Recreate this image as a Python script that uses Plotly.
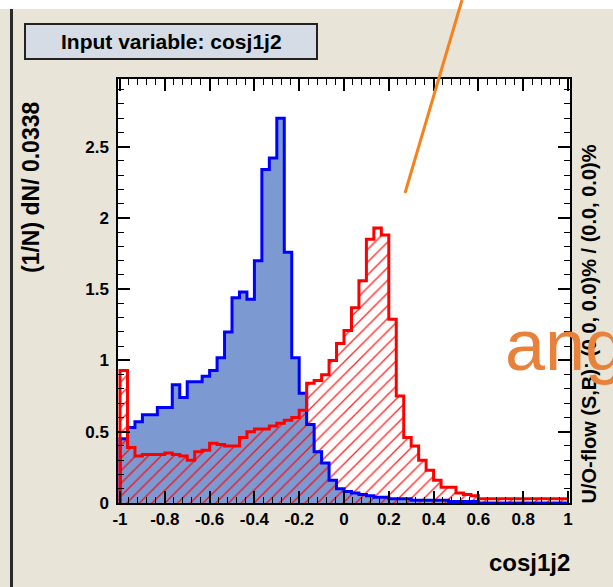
import numpy as np
import plotly.graph_objects as go

# ---------------- data ----------------
x_min, x_max, n_bins = -1.0, 1.0, 60

signal_vals = [0.45, 0.53, 0.57, 0.62, 0.62, 0.67, 0.67, 0.83, 0.74, 0.85,
               0.85, 0.89, 0.93, 1.02, 1.20, 1.44, 1.48, 1.43, 1.70, 2.34,
               2.42, 2.70, 1.76, 1.02, 0.77, 0.55, 0.36, 0.28, 0.16, 0.10,
               0.08, 0.07, 0.06, 0.05, 0.04, 0.04, 0.03, 0.03, 0.03, 0.02,
               0.02, 0.02, 0.02, 0.02, 0.01, 0.01, 0.01, 0.01, 0.00, 0.00,
               0.00, 0.00, 0.00, 0.00, 0.00, 0.00, 0.00, 0.00, 0.00, 0.00]

background_vals = [0.93, 0.39, 0.33, 0.34, 0.34, 0.34, 0.35, 0.34, 0.33, 0.30,
                   0.36, 0.37, 0.42, 0.41, 0.40, 0.40, 0.46, 0.50, 0.52, 0.52,
                   0.54, 0.56, 0.58, 0.60, 0.65, 0.84, 0.86, 0.90, 1.00, 1.12,
                   1.21, 1.37, 1.56, 1.85, 1.93, 1.88, 1.29, 0.75, 0.46, 0.40,
                   0.30, 0.23, 0.16, 0.11, 0.11, 0.07, 0.06, 0.05, 0.03, 0.03,
                   0.03, 0.03, 0.03, 0.03, 0.03, 0.03, 0.03, 0.03, 0.03, 0.03]

x_tick_vals = [-1, -0.8, -0.6, -0.4, -0.2, 0, 0.2, 0.4, 0.6, 0.8, 1]
x_tick_text = ["-1", "-0.8", "-0.6", "-0.4", "-0.2", "0", "0.2", "0.4", "0.6", "0.8", "1"]
y_tick_vals = [0, 0.5, 1, 1.5, 2, 2.5]
y_tick_text = ["0", "0.5", "1", "1.5", "2", "2.5"]

title_text = "Input variable: cosj1j2"
y_title = "(1/N) dN/ 0.0338"
x_title = "cosj1j2"
right_title = "U/O-flow (S,B): (0.0, 0.0)% / (0.0, 0.0)%"
overlay_text = "ang"

# ---------------- geometry helpers ----------------
WIDTH, HEIGHT = 613, 587
L, R, T, B = 118, 570, 79, 503
PW, PH = R - L, B - T


def px(x):
    return (x - L) / PW


def py(y):
    return (B - y) / PH


edges = np.linspace(x_min, x_max, n_bins + 1)
centers = 0.5 * (edges[:-1] + edges[1:])
bw = edges[1] - edges[0]

BOLD = dict(family="Liberation Sans, Arial, sans-serif", color="black", weight="bold")

fig = go.Figure()

fig.add_bar(x=centers, y=signal_vals, width=bw,
            marker=dict(color="#7D99D1", line=dict(width=0)))
fig.add_bar(x=centers, y=background_vals, width=bw,
            marker=dict(color="rgba(0,0,0,0)", line=dict(width=0),
                        pattern=dict(shape="/", fgcolor="rgba(255,0,0,0.85)",
                                     bgcolor="rgba(0,0,0,0)", size=9,
                                     solidity=0.15, fillmode="replace")))


def step(vals):
    xs = [edges[0]] + list(edges)
    ys = [0] + list(vals) + [vals[-1]]
    return xs, ys


sx, sy = step(signal_vals)
fig.add_scatter(x=sx, y=sy, mode="lines", line=dict(color="#0000FF", width=3, shape="hv"))
bx, by = step(background_vals)
fig.add_scatter(x=bx, y=by, mode="lines", line=dict(color="#FF0000", width=3, shape="hv"))

axis_common = dict(ticks="inside", ticklen=12, tickwidth=1.5, tickcolor="black",
                   showline=True, linecolor="black", linewidth=1.5, mirror="ticks",
                   showgrid=False, zeroline=False,
                   tickfont=dict(size=17, **BOLD))

fig.update_xaxes(range=[-1.009, 1.009], tickmode="array", tickvals=x_tick_vals,
                 ticktext=x_tick_text,
                 minor=dict(ticks="inside", ticklen=6, tickmode="linear", tick0=-1,
                            dtick=0.04, tickcolor="black", tickwidth=1, showgrid=False),
                 **axis_common)
fig.update_yaxes(range=[0, 2.975], tickmode="array", tickvals=y_tick_vals,
                 ticktext=y_tick_text, ticklabelstandoff=4,
                 minor=dict(ticks="inside", ticklen=6, tickmode="linear", tick0=0,
                            dtick=0.1, tickcolor="black", tickwidth=1, showgrid=False),
                 **axis_common)

shapes = [
    dict(type="rect", xref="paper", yref="paper", x0=px(0), x1=px(WIDTH), y0=py(0), y1=py(9),
         fillcolor="white", line=dict(width=0), layer="above"),
    dict(type="line", xref="paper", yref="paper", x0=px(11.5), x1=px(11.5), y0=py(9), y1=py(HEIGHT),
         line=dict(color="#2a2a2a", width=3), layer="above"),
    dict(type="rect", xref="paper", yref="paper", x0=px(25), x1=px(317), y0=py(24), y1=py(59),
         fillcolor="#D5DCE6", line=dict(color="#222", width=2), layer="above"),
    dict(type="line", xref="paper", yref="paper", x0=px(462), x1=px(405), y0=py(0), y1=py(193),
         line=dict(color="#F5821F", width=3), layer="above"),
]

annotations = [
    dict(text=title_text, x=px(171), y=py(41.5), xref="paper", yref="paper",
         xanchor="center", yanchor="middle", showarrow=False, font=dict(size=21, **BOLD)),
    dict(text=y_title, x=px(31), y=py(188), xref="paper", yref="paper", textangle=-90,
         xanchor="center", yanchor="middle", showarrow=False, font=dict(size=23, **BOLD)),
    dict(text=x_title, x=px(572), y=py(562), xref="paper", yref="paper",
         xanchor="right", yanchor="middle", showarrow=False, font=dict(size=24, **BOLD)),
    dict(text=right_title, x=px(588), y=py(506), xref="paper", yref="paper", textangle=-90,
         xanchor="center", yanchor="bottom", showarrow=False, font=dict(size=20, **BOLD)),
    dict(text=overlay_text, x=px(503), y=py(345), xref="paper", yref="paper",
         xanchor="left", yanchor="middle", showarrow=False,
         font=dict(size=72, family="Liberation Sans, Arial, sans-serif", color="#E8823A")),
]

fig.update_layout(width=WIDTH, height=HEIGHT,
                  margin=dict(l=L, r=WIDTH - R, t=T, b=HEIGHT - B, pad=0),
                  paper_bgcolor="#E8E4D8", plot_bgcolor="white",
                  showlegend=False, barmode="overlay", bargap=0,
                  shapes=shapes, annotations=annotations)

fig.write_html("out.html")
